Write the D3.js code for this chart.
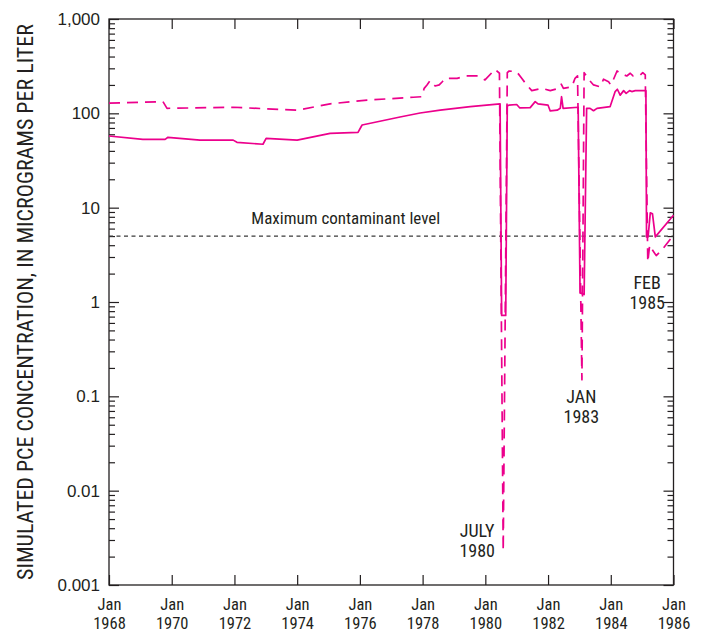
<!DOCTYPE html>
<html><head><meta charset="utf-8">
<script src="https://cdn.jsdelivr.net/npm/d3@7"></script>
<style>
html,body{margin:0;padding:0;background:#fff;}
svg{display:block;}
text{font-family:"Liberation Sans Narrow","Arial Narrow","Roboto Condensed",sans-serif;fill:#231f20;}
</style></head><body>
<svg id="chart" width="701" height="632"></svg>
<script>
// ---- data ----
const xTickYears = [1968,1970,1972,1974,1976,1978,1980,1982,1984,1986];
const xTickMonth = "Jan";
const yTickValues = [0.001,0.01,0.1,1,10,100,1000];
const yTickLabels = ["0.001","0.01","0.1","1","10","100","1,000"];
const yAxisTitle = "SIMULATED PCE CONCENTRATION, IN MICROGRAMS PER LITER";

const solidYears = [1968.0,1969.08,1969.79,1969.88,1970.90,1971.96,1972.08,1972.91,1973.01,1974.00,1975.05,1975.94,1976.07,1977.28,1977.92,1978.56,1979.52,1980.47,1980.52,1980.65,1980.70,1980.75,1981.0,1981.1,1981.43,1981.59,1981.68,1982.0,1982.07,1982.29,1982.39,1982.43,1982.48,1982.96,1983.02,1983.15,1983.23,1983.34,1983.45,1983.56,1983.98,1984.14,1984.21,1984.30,1984.41,1984.49,1984.60,1984.67,1984.78,1985.12,1985.14,1985.19,1985.26,1985.33,1985.42,1986.0];
const solidValues = [57.5,53,53,55.7,52.1,52,49.3,47,54.3,52,61.4,62.9,75.2,91.4,100.8,108,118,126,0.72,0.72,120,122,124,114,115,133,126,122,106,108,113,150,113,116,1.25,1.2,113,113,106.6,113,118,170,180,156,174,163,174,170,174,174,4.9,4.9,8.8,8.6,4.9,8.3];

const dashedYears = [1968.0,1969.72,1969.85,1971.96,1974.0,1975.05,1976.23,1977.70,1977.97,1978.05,1978.14,1978.24,1978.40,1978.53,1978.62,1978.72,1979.10,1979.42,1979.77,1979.99,1980.31,1980.45,1980.57,1980.70,1980.76,1981.0,1981.16,1981.32,1981.48,1981.80,1982.07,1982.33,1982.42,1982.49,1982.76,1982.86,1982.94,1983.08,1983.15,1983.29,1983.45,1983.66,1983.77,1983.93,1984.00,1984.08,1984.20,1984.30,1984.51,1984.62,1984.71,1984.94,1985.02,1985.10,1985.18,1985.24,1985.32,1985.45,1985.64,1986.0];
const dashedValues = [128,133,113,116,108,126,138,148,150,184,200,222,195,200,215,235,235,249,249,226,293,266,0.0023,270,281,276,235,200,174,184,174,184,204,184,191,235,250,0.15,270,230,200,191,230,216,200,226,281,266,249,266,249,255,270,255,2.65,4.0,3.6,3.1,3.6,5.1];

const mclValue = 5;
const mclLabel = "Maximum contaminant level";
const mclLabelYear = 1975.55;

const noteLines = [["JULY","1980"],["JAN","1983"],["FEB","1985"]];
const noteYears = [1979.74, 1983.06, 1985.16];
const noteValues = [0.0032, 0.085, 1.37];

// ---- layout ----
const L = 109, R = 673.5, T = 19, B = 585;
const ink = "#231f20", magenta = "#ec008c";
const svg = d3.select("#chart");

const x = d3.scaleLinear().domain([1968,1986]).range([L,R]);
const y = d3.scaleLog().domain([0.001,1000]).range([B,T]);

const allY = y.ticks();
const minorY = allY.filter(v => Math.abs(Math.log10(v) - Math.round(Math.log10(v))) > 1e-9);

// frame
svg.append("rect").attr("x",L).attr("y",T).attr("width",R-L).attr("height",B-T)
  .attr("fill","none").attr("stroke",ink).attr("stroke-width",1.3);

function styleAxis(g){
  g.select(".domain").remove();
  g.selectAll(".tick line").attr("stroke",ink).attr("stroke-width",1.2);
}
// left axis
svg.append("g").attr("transform",`translate(${L},0)`)
  .call(d3.axisLeft(y).tickValues(minorY).tickSize(-6).tickFormat(""))
  .call(styleAxis);
const leftMajor = svg.append("g").attr("transform",`translate(${L},0)`)
  .call(d3.axisLeft(y).tickValues(yTickValues).tickSize(-10).tickPadding(9)
    .tickFormat((d,i)=>yTickLabels[i]))
  .call(styleAxis);
leftMajor.selectAll(".tick text").attr("font-size",17).attr("fill",ink)
  .style("font-family",'"Liberation Sans Narrow","Arial Narrow",sans-serif');
// right axis
svg.append("g").attr("transform",`translate(${R},0)`)
  .call(d3.axisRight(y).tickValues(minorY).tickSize(-6).tickFormat(""))
  .call(styleAxis);
svg.append("g").attr("transform",`translate(${R},0)`)
  .call(d3.axisRight(y).tickValues(yTickValues).tickSize(-10).tickFormat(""))
  .call(styleAxis);
// top axis
svg.append("g").attr("transform",`translate(0,${T})`)
  .call(d3.axisTop(x).tickValues(xTickYears).tickSize(-10).tickFormat(""))
  .call(styleAxis);
// bottom axis
const bottom = svg.append("g").attr("transform",`translate(0,${B})`)
  .call(d3.axisBottom(x).tickValues(xTickYears).tickSize(-10).tickFormat(""))
  .call(styleAxis);
bottom.selectAll(".tick").each(function(d){
  const t = d3.select(this);
  t.append("text").attr("y",25).attr("text-anchor","middle").attr("font-size",16.5).text(xTickMonth);
  t.append("text").attr("y",44).attr("text-anchor","middle").attr("font-size",16.5).text(d);
});

// y axis title
svg.append("text")
  .attr("transform",`translate(33,${(T+B)/2}) rotate(-90)`)
  .attr("text-anchor","middle").attr("font-size",22)
  .text(yAxisTitle);

// MCL line
svg.append("line").attr("x1",L).attr("x2",R).attr("y1",y(mclValue)).attr("y2",y(mclValue))
  .attr("stroke","#3a3a3a").attr("stroke-width",1.2).attr("stroke-dasharray","4,3.5");
svg.append("text").attr("x",x(mclLabelYear)).attr("y",y(mclValue)-12)
  .attr("text-anchor","middle").attr("font-size",17).text(mclLabel);

// series
const line = d3.line().x(d=>x(d[0])).y(d=>y(d[1]));
const solid = solidYears.map((t,i)=>[t,solidValues[i]]);
const dashed = dashedYears.map((t,i)=>[t,dashedValues[i]]);
svg.append("path").datum(dashed).attr("d",line).attr("fill","none")
  .attr("stroke",magenta).attr("stroke-width",1.7).attr("stroke-dasharray","11,7")
  .attr("stroke-linejoin","round");
svg.append("path").datum(solid).attr("d",line).attr("fill","none")
  .attr("stroke",magenta).attr("stroke-width",1.7).attr("stroke-linejoin","round");

// annotations
noteLines.forEach((lines,i)=>{
  const tx = svg.append("text").attr("text-anchor","middle").attr("font-size",18)
    .attr("x",x(noteYears[i])).attr("y",y(noteValues[i]));
  lines.forEach((s,j)=>{
    tx.append("tspan").attr("x",x(noteYears[i])).attr("dy",j?20:0).text(s);
  });
});
</script>
</body></html>
